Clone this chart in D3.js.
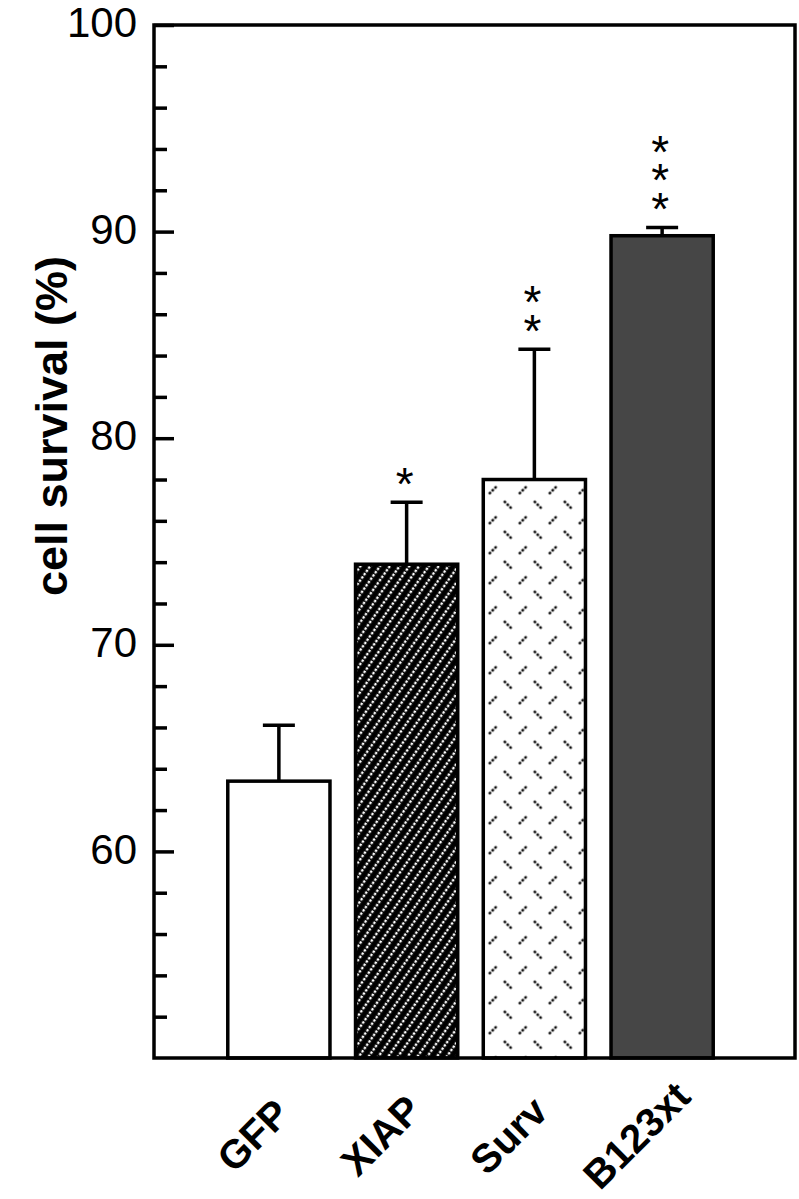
<!DOCTYPE html>
<html>
<head>
<meta charset="utf-8">
<script src="https://cdnjs.cloudflare.com/ajax/libs/d3/7.8.5/d3.min.js"></script>
<style>
	body { margin: 0; background: #fff; }
	svg { display: block; font-family: "Liberation Sans", Arial, Helvetica, sans-serif; }
</style>
</head>
<body>
<svg id="bar-graph-svg" width="799" height="1199"></svg>
<script>
(function(){

	var groups = ["GFP", "XIAP", "Surv", "B123xt"];
	var survival = [63.4, 73.9, 78.0, 89.8];
	var errUp = [2.7, 3.0, 6.3, 0.4];
	var stars = [0, 1, 2, 3];
	var majorTicks = [60, 70, 80, 90, 100];
	var yTitle = "cell survival (%)";

	var frame = {left: 154, right: 795, top: 25, bottom: 1058};

	draw();

	function draw(){
		var svg = d3.select("#bar-graph-svg");

		var x = d3.scaleBand()
			.domain(groups)
			.range([215, 726])
			.paddingInner(0.2)
			.paddingOuter(0.1);

		var y = d3.scaleLinear()
			.domain([50, 100])
			.range([frame.bottom, frame.top]);

		var fills = ["#fff", "url(#hatch)", "url(#dashes)", "#464646"];

		// patterns
		var defs = svg.append("defs");
		var p1 = defs.append("pattern")
			.attr("id", "hatch")
			.attr("patternUnits", "userSpaceOnUse")
			.attr("width", 8).attr("height", 8)
			.attr("patternTransform", "rotate(35)");
		p1.append("rect").attr("width", 8).attr("height", 8).attr("fill", "#000");
		p1.append("line")
			.attr("x1", 4).attr("x2", 4).attr("y1", 0).attr("y2", 8)
			.attr("stroke", "#fff").attr("stroke-width", 2.4)
			.attr("stroke-dasharray", "2.5,1.5");

		var p2 = defs.append("pattern")
			.attr("id", "dashes")
			.attr("patternUnits", "userSpaceOnUse")
			.attr("x", 485.5).attr("y", 482.5)
			.attr("width", 30).attr("height", 30);
		p2.append("rect").attr("width", 30).attr("height", 30).attr("fill", "#fff");
		p2.append("line")
			.attr("x1", 3.5).attr("y1", 11.5).attr("x2", 11.5).attr("y2", 3.5)
			.attr("stroke", "#000").attr("stroke-width", 2.4)
			.attr("stroke-dasharray", "2.6,1.4");
		p2.append("line")
			.attr("x1", 18.5).attr("y1", 18.5).attr("x2", 26.5).attr("y2", 26.5)
			.attr("stroke", "#000").attr("stroke-width", 2.4)
			.attr("stroke-dasharray", "2.6,1.4");

		// bars
		svg.append("g")
			.selectAll("rect")
			.data(groups)
			.enter().append("rect")
				.attr("x", function(d){ return x(d); })
				.attr("y", function(d, i){ return y(survival[i]); })
				.attr("width", x.bandwidth())
				.attr("height", function(d, i){ return y(50) - y(survival[i]); })
				.attr("fill", function(d, i){ return fills[i]; })
				.attr("stroke", "#000")
				.attr("stroke-width", 3.5);

		// error bars (upper only)
		var eb = svg.append("g")
			.attr("stroke", "#000")
			.attr("stroke-width", 3.5)
			.selectAll("g")
			.data(groups)
			.enter().append("g");
		eb.append("line")
			.attr("x1", function(d){ return x(d) + x.bandwidth() / 2; })
			.attr("x2", function(d){ return x(d) + x.bandwidth() / 2; })
			.attr("y1", function(d, i){ return y(survival[i]); })
			.attr("y2", function(d, i){ return y(survival[i] + errUp[i]); });
		eb.append("line")
			.attr("x1", function(d){ return x(d) + x.bandwidth() / 2 - 16; })
			.attr("x2", function(d){ return x(d) + x.bandwidth() / 2 + 16; })
			.attr("y1", function(d, i){ return y(survival[i] + errUp[i]); })
			.attr("y2", function(d, i){ return y(survival[i] + errUp[i]); });

		// significance stars, one text per bar, stacked with tspans
		var fs = 46;
		var sg = svg.append("g");
		groups.forEach(function(d, i){
			if(stars[i] === 0) return;
			var cx = x(d) + x.bandwidth() / 2 - 2;
			var bottomStar = y(survival[i] + errUp[i]) - 29;
			var topStar = bottomStar - (stars[i] - 1) * 28.5;
			var t = sg.append("text")
				.attr("text-anchor", "middle")
				.style("font-size", fs + "px");
			for(var k = 0; k < stars[i]; k++){
				t.append("tspan")
					.attr("x", cx)
					.attr("y", topStar + k * 28.5 + fs * 0.575)
					.text("*");
			}
		});

		// frame
		svg.append("rect")
			.attr("x", frame.left)
			.attr("y", frame.top)
			.attr("width", frame.right - frame.left)
			.attr("height", frame.bottom - frame.top)
			.attr("fill", "none")
			.attr("stroke", "#000")
			.attr("stroke-width", 3.5);

		// y axis: minor then major ticks, drawn inward
		var minor = d3.range(52, 100, 2).filter(function(v){ return v % 10 !== 0; });
		var gMinor = svg.append("g")
			.attr("transform", "translate(" + frame.left + ",0)")
			.call(d3.axisLeft(y).tickValues(minor).tickSize(-13).tickFormat(""));
		var gMajor = svg.append("g")
			.attr("transform", "translate(" + frame.left + ",0)")
			.call(d3.axisLeft(y).tickValues(majorTicks).tickSize(-20).tickPadding(17));
		[gMinor, gMajor].forEach(function(g){
			g.select(".domain").remove();
			g.selectAll("line").attr("stroke", "#000").attr("stroke-width", 3.5);
		});
		gMajor.selectAll("text")
			.attr("fill", "#000")
			.attr("dy", "0.28em")
			.style("font-size", "42px")
			.style("font-family", "'Liberation Sans', Arial, sans-serif");

		// y title
		svg.append("text")
			.attr("transform", "translate(67,426) rotate(-90)")
			.attr("text-anchor", "middle")
			.style("font-size", "45px")
			.style("font-weight", "bold")
			.text(yTitle);

		// x labels, slanted
		svg.append("g")
			.selectAll("text")
			.data(groups)
			.enter().append("text")
				.attr("transform", function(d){
					return "translate(" + (x(d) + x.bandwidth() / 2 - 26) + ",1135) rotate(-45)";
				})
				.attr("text-anchor", "middle")
				.attr("dy", "0.36em")
				.style("font-size", "40px")
				.style("font-weight", "bold")
				.text(function(d){ return d; });
	}

})();
</script>
</body>
</html>
